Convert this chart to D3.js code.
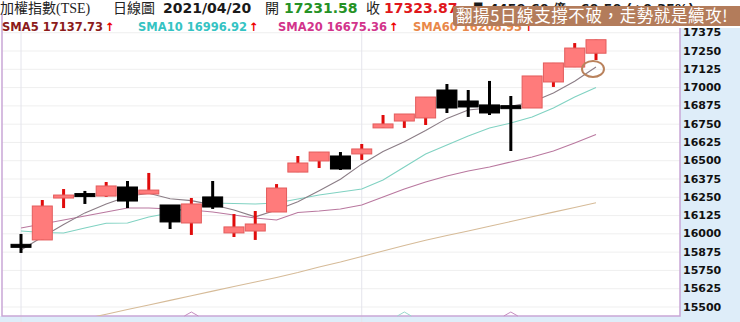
<!DOCTYPE html>
<meta charset="utf-8">
<head>
<meta charset="utf-8">
<script src="https://d3js.org/d3.v7.min.js"></script>
<style>
  body { margin: 0; background: #fff; }
  svg { display: block; }
</style>
</head>
<body>
<svg width="740" height="322"></svg>
<script>
// daily candles, oldest first (last one = 2021/04/20)
var opens  = [15925, 15955, 16242, 16272, 16255, 16317, 16269, 16194, 16071, 16249, 16003, 16016, 16146, 16419,
              16495, 16529, 16543, 16721, 16768, 16789, 16980, 16905, 16878, 16873, 16857, 17035, 17137, 17231.58];
var highs  = [15996, 16228, 16303, 16290, 16351, 16358, 16413, 16194, 16242, 16358, 16132, 16153, 16337, 16529,
              16556, 16556, 16611, 16809, 16816, 16932, 17021, 16980, 17042, 16939, 17076, 17165, 17301, 17323.87];
var lows   = [15866, 15955, 16173, 16201, 16249, 16173, 16269, 16030, 15989, 16167, 15975, 15955, 16146, 16419,
              16447, 16433, 16502, 16721, 16721, 16741, 16823, 16796, 16809, 16563, 16857, 17001, 17137, 17185];
var closes = [15915, 16187, 16262, 16266, 16324, 16221, 16296, 16078, 16201, 16180, 16044, 16064, 16310, 16481,
              16556, 16440, 16577, 16748, 16816, 16932, 16857, 16864, 16823, 16869, 17076, 17165, 17267, 17323.87];

var sma5  = [15886, 15975, 16060, 16140, 16200, 16252, 16274, 16237, 16224, 16195, 16160, 16113, 16160, 16216,
             16291, 16370, 16473, 16560, 16627, 16703, 16786, 16843, 16858, 16869, 16898, 16959, 17040, 17137.73];
var sma10 = [16016, 16006, 16002, 16037, 16069, 16071, 16112, 16139, 16173, 16208, 16204, 16201, 16208, 16235,
             16262, 16283, 16303, 16365, 16454, 16543, 16604, 16666, 16720, 16754, 16796, 16857, 16932, 16996.92];
var sma20 = [16037, 16064, 16091, 16119, 16146, 16173, 16173, 16167, 16160, 16146, 16126, 16105, 16091, 16143,
             16153, 16167, 16194, 16249, 16303, 16351, 16392, 16426, 16454, 16488, 16522, 16563, 16618, 16675.36];
var sma60 = [15321, 15353, 15384, 15416, 15447, 15479, 15510, 15542, 15573, 15605, 15637, 15667, 15698, 15732,
             15770, 15804, 15842, 15879, 15917, 15953, 15985, 16016, 16049, 16081, 16113, 16145, 16177, 16208.95];

var yTicks = [17375, 17250, 17125, 17000, 16875, 16750, 16625, 16500, 16375, 16250, 16125, 16000, 15875, 15750, 15625, 15500];
var monthStarts = [0, 16];        // faint vertical separators
var bottomMarks = [8, 18, 23];    // little triangles on the bottom edge

var svg = d3.select("svg");
// note: "top" is taken by window.top, so plotTop etc.
var plotLeft = 2, plotRight = 680, plotTop = 28, plotBottom = 316;

var x = d3.scaleLinear().domain([0, 27]).range([21, 596]);
var y = d3.scaleLinear().domain([15435, 17445]).range([316, 22]);

// right panel + bottom strip
svg.append("rect").attr("x", plotRight).attr("y", plotTop).attr("width", 740 - plotRight).attr("height", 322 - plotTop).attr("fill", "#deedf9");
svg.append("rect").attr("x", 0).attr("y", plotBottom).attr("width", 740).attr("height", 322 - plotBottom).attr("fill", "#deedf9");

// grid
svg.append("g")
  .attr("transform", "translate(" + plotLeft + ",0)")
  .call(d3.axisLeft(y).tickValues(yTicks).tickSize(-(plotRight - plotLeft)).tickFormat(""))
  .call(function(g) { g.select(".domain").remove(); })
  .selectAll("line").attr("stroke", "#efefef");

svg.append("g").selectAll("line")
  .data(monthStarts).enter().append("line")
  .attr("x1", function(d) { return x(d); }).attr("x2", function(d) { return x(d); })
  .attr("y1", plotTop).attr("y2", 322)
  .attr("stroke", "#e4e4ec");

// frame
svg.append("path")
  .attr("d", "M" + plotLeft + ",14V" + plotBottom + "H" + plotRight + "V" + plotTop)
  .attr("fill", "none").attr("stroke", "#c9a6d6").attr("stroke-width", 1.5);

svg.append("g").selectAll("path")
  .data(bottomMarks).enter().append("path")
  .attr("d", function(d) { var cx = x(d); return "M" + (cx - 7) + "," + plotBottom + "L" + cx + "," + (plotBottom - 4) + "L" + (cx + 7) + "," + plotBottom; })
  .attr("fill", "none")
  .attr("stroke", function(d, i) { return i == 1 ? "#9ad8cc" : "#c58cc0"; });

// axis labels
svg.append("g")
  .attr("transform", "translate(" + plotRight + ",0)")
  .call(d3.axisRight(y).tickValues(yTicks).tickSize(0).tickPadding(3).tickFormat(d3.format("d")))
  .call(function(g) { g.select(".domain").remove(); })
  .selectAll("text")
    .attr("fill", "#111")
    .style("font-family", "'DejaVu Sans', Verdana, sans-serif")
    .style("font-weight", "bold")
    .style("font-size", "11px");

// moving averages
svg.append("clipPath").attr("id", "plot")
  .append("rect").attr("x", plotLeft).attr("y", plotTop).attr("width", plotRight - plotLeft).attr("height", plotBottom - plotTop);

var lineGen = d3.line().x(function(d, i) { return x(i); }).y(function(d) { return y(d); });
var maLines = [
  { vals: sma60, color: "#d6bb98" },
  { vals: sma20, color: "#b9789f" },
  { vals: sma10, color: "#80d2c2" },
  { vals: sma5,  color: "#8b7d86" }
];
svg.append("g").attr("clip-path", "url(#plot)")
  .selectAll("path").data(maLines).enter().append("path")
  .attr("d", function(d) { return lineGen(d.vals); })
  .attr("fill", "none")
  .attr("stroke", function(d) { return d.color; })
  .attr("stroke-width", 1.1);

// candles
var candles = closes.map(function(c, i) {
  return { i: i, o: opens[i], h: highs[i], l: lows[i], c: c };
});
var bw = 20;
var cg = svg.append("g").selectAll("g").data(candles).enter().append("g");

cg.append("line")
  .attr("x1", function(d) { return x(d.i); }).attr("x2", function(d) { return x(d.i); })
  .attr("y1", function(d) { return y(d.h); }).attr("y2", function(d) { return y(d.l); })
  .attr("stroke", function(d) { return d.c >= d.o ? "#e00b0b" : "#000"; })
  .attr("stroke-width", 3);

cg.append("rect")
  .attr("x", function(d) { return x(d.i) - bw / 2; })
  .attr("width", bw)
  .attr("y", function(d) { return y(Math.max(d.o, d.c)); })
  .attr("height", function(d) { return Math.max(3, Math.abs(y(d.o) - y(d.c))); })
  .attr("fill", function(d) { return d.c >= d.o ? "#ff7b7b" : "#000"; })
  .attr("stroke", function(d) { return d.c >= d.o ? "#e35c5c" : "#000"; })
  .attr("stroke-width", 1);

// highlight ring on last SMA5 point
svg.append("ellipse")
  .attr("cx", x(27) - 3).attr("cy", y(sma5[27]) + 2)
  .attr("rx", 11).attr("ry", 8)
  .attr("fill", "none").attr("stroke", "#b9825c").attr("stroke-width", 2);

// header row 1
var cjk = "'Liberation Serif', 'Noto Sans CJK TC', serif";
var num = "'DejaVu Sans', Verdana, sans-serif";
var h1 = svg.append("g").style("font-size", "14px");
h1.append("text").attr("x", 0).attr("y", 13).style("font-family", cjk).attr("fill", "#222").text("加權指數(TSE)");
h1.append("text").attr("x", 113).attr("y", 13).style("font-family", cjk).attr("fill", "#222").text("日線圖");
h1.append("text").attr("x", 163).attr("y", 13).style("font-family", num).style("font-weight", "bold").attr("fill", "#1a1a1a").text("2021/04/20");
h1.append("text").attr("x", 265).attr("y", 13).style("font-family", cjk).attr("fill", "#222").text("開");
h1.append("text").attr("x", 284).attr("y", 13).style("font-family", num).style("font-weight", "bold").attr("fill", "#259225").text("17231.58");
h1.append("text").attr("x", 366).attr("y", 13).style("font-family", cjk).attr("fill", "#222").text("收");
h1.append("text").attr("x", 384).attr("y", 13).style("font-family", num).style("font-weight", "bold").attr("fill", "#e0161b").text("17323.87");
// mostly hidden under the caption banner in the original
h1.append("text").attr("x", 472).attr("y", 13).style("font-family", num).style("font-weight", "bold").attr("fill", "#1a1a1a")
  .style("font-size", "13px").text("量 4459.60 億 : 60.50 (+0.35%)");

// header row 2 (moving average legend)
var legend = [
  { x: 2,   label: "SMA5 17137.73",  color: "#8c1b1b" },
  { x: 138, label: "SMA10 16996.92", color: "#35c3c3" },
  { x: 278, label: "SMA20 16675.36", color: "#d2348b" },
  { x: 413, label: "SMA60 16208.95", color: "#e9884a" }
];
var lt = svg.append("g").selectAll("text").data(legend).enter().append("text")
  .attr("x", function(d) { return d.x; }).attr("y", 31)
  .style("font-family", num).style("font-weight", "bold").style("font-size", "11.5px")
  .attr("fill", function(d) { return d.color; });
lt.append("tspan").text(function(d) { return d.label; });
lt.append("tspan").attr("fill", "#e00").attr("dx", 2).text("↑");

// caption banner
svg.append("rect").attr("x", 453).attr("y", 6).attr("width", 290).attr("height", 20).attr("rx", 2).attr("fill", "#b37c5b");
svg.append("text").attr("x", 456).attr("y", 22)
  .style("font-family", "'Noto Sans CJK TC', sans-serif").style("font-size", "16.5px").style("letter-spacing", "0.6px")
  .attr("fill", "#fff").text("翻揚5日線支撐不破，走勢就是續攻!");
</script>
</body>
</html>
